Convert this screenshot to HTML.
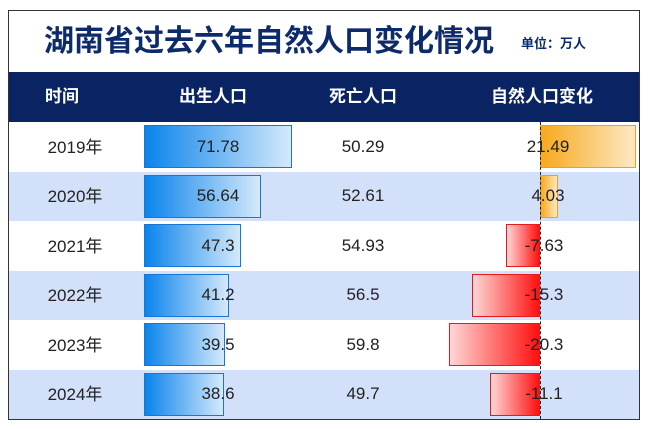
<!DOCTYPE html>
<html><head><meta charset="utf-8"><style>
body{margin:0;width:650px;height:429px;background:#fff;font-family:"Liberation Sans","Noto Sans CJK SC",sans-serif;position:relative;overflow:hidden}
.box{position:absolute;left:8px;top:10px;width:632px;height:410px;border:1.5px solid #333;box-sizing:border-box;z-index:10}
.t{position:absolute;left:44px;top:24px;font-size:30px;line-height:36px;font-weight:bold;color:#0d2a6b}
.u{position:absolute;left:521px;top:36px;font-size:13px;line-height:16px;font-weight:bold;color:#0d2a6b}
.hd{position:absolute;left:9px;top:72px;width:630px;height:50px;background:#0a2463}
.h{position:absolute;top:72px;height:50px;line-height:50px;color:#fff;font-weight:bold;font-size:17px;transform:translateX(-50%);white-space:nowrap}
.row{position:absolute;left:9px;width:630px;height:49.5px}
.c{position:absolute;height:49.5px;display:flex;align-items:center;font-size:17px;line-height:20px;color:#222;transform:translateX(-50%);white-space:nowrap;z-index:3}
.c span{display:block;line-height:20px;height:20px}
.b{position:absolute;height:43px;box-sizing:border-box;z-index:2}
.bb{background:linear-gradient(to right,#0a84ec,#d4e9fb);border:1px solid #1976d2}
.bo{background:linear-gradient(to right,#f7a91c,#fde9c4);border:1px solid #f0a020}
.br{background:linear-gradient(to right,#ffd6d6,#ff1010);border:1px solid #e41b1b}
.z{position:absolute;left:540px;top:122px;height:297px;border-left:1.5px dashed #222;z-index:4}
</style></head><body>
<div class="box"></div>
<div class="t">湖南省过去六年自然人口变化情况</div>
<div class="u">单位：万人</div>
<div class="hd"></div>
<div class="h" style="left:62px">时间</div>
<div class="h" style="left:213px">出生人口</div>
<div class="h" style="left:363px">死亡人口</div>
<div class="h" style="left:542px">自然人口变化</div>
<div id="rows"></div>
<div class="z"></div>
<script>
var d=[[2019,"71.78","50.29","21.49"],[2020,"56.64","52.61","4.03"],[2021,"47.3","54.93","-7.63"],[2022,"41.2","56.5","-15.3"],[2023,"39.5","59.8","-20.3"],[2024,"38.6","49.7","-11.1"]];
var h="";
d.forEach(function(r,i){var y=122+i*49.5;
h+='<div class="row" style="top:'+y+'px;background:'+(i%2?'#d3e0fa':'#fff')+'"></div>';
var bw=parseFloat(r[1])*2.06;
h+='<div class="b bb" style="left:144px;top:'+(y+3)+'px;width:'+bw+'px"></div>';
var v=parseFloat(r[3]),w=Math.abs(v)*4.47;
if(v>0)h+='<div class="b bo" style="left:540px;top:'+(y+3)+'px;width:'+w+'px"></div>';
else h+='<div class="b br" style="left:'+(540-w)+'px;top:'+(y+3)+'px;width:'+w+'px"></div>';
var ty=y;
h+='<div class="c" style="left:75px;top:'+(ty+1)+'px"><span>'+r[0]+'年</span></div>';
h+='<div class="c" style="left:218px;top:'+ty+'px"><span>'+r[1]+'</span></div>';
h+='<div class="c" style="left:363px;top:'+ty+'px"><span>'+r[2]+'</span></div>';
h+='<div class="c" style="left:'+(v<0?544:548)+'px;top:'+ty+'px"><span>'+r[3]+'</span></div>';
});
document.getElementById("rows").innerHTML=h;
</script>
</body></html>
